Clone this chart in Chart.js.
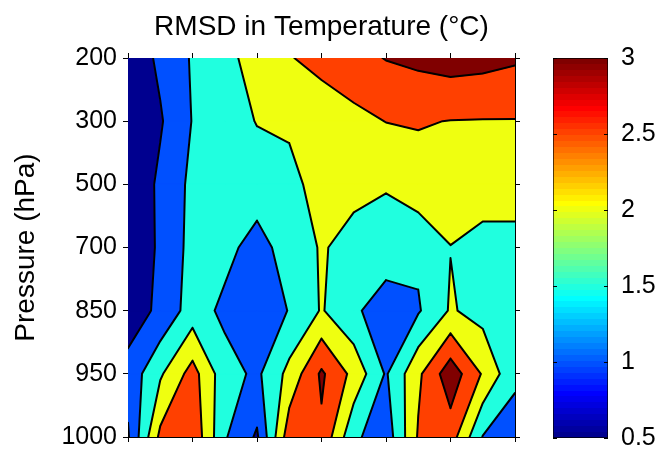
<!DOCTYPE html>
<html lang="en">
<head>
<meta charset="UTF-8">
<title>RMSD in Temperature</title>
<script src="https://cdn.jsdelivr.net/npm/chart.js"></script>
<style>
  body { margin: 0; background: #fff; }
  .wrap { position: relative; width: 657px; height: 458px; }
  #mainChart { position: absolute; left: 0; top: 0; }
  #barChart { position: absolute; left: 520px; top: 0; }
</style>
</head>
<body>
<div class="wrap">
  <canvas id="mainChart" width="657" height="458"></canvas>
  <canvas id="barChart" width="137" height="458"></canvas>
</div>
<script>
// pressure levels (rows, top to bottom) and grid columns along x
const pressureLevels = ['200', '300', '500', '700', '850', '950', '1000'];
const columns = [0, 1, 2, 3, 4, 5, 6, 7, 8, 9, 10, 11, 12];

// RMSD values (deg C), one array per pressure level
const rmsd200  = [0.65, 1.10, 1.55, 1.87, 2.18, 2.47, 2.66, 2.84, 3.02, 3.12, 3.22, 3.17, 3.07];
const rmsd300  = [0.55, 0.95, 1.52, 1.77, 2.02, 2.08, 2.20, 2.36, 2.51, 2.53, 2.49, 2.48, 2.48];
const rmsd500  = [0.57, 1.10, 1.62, 1.70, 1.77, 1.85, 2.20, 2.12, 2.03, 2.32, 2.25, 2.20, 2.20];
const rmsd700  = [0.70, 1.06, 1.67, 1.65, 1.30, 1.73, 2.04, 1.85, 1.82, 1.60, 1.99, 1.86, 1.86];
const rmsd850  = [0.75, 1.10, 1.74, 1.39, 1.20, 1.52, 2.04, 1.60, 1.20, 1.45, 2.05, 1.82, 1.75];
const rmsd950  = [1.17, 1.93, 2.70, 1.70, 1.40, 2.15, 3.08, 2.35, 1.45, 2.40, 3.30, 2.45, 1.60];
const rmsd1000 = [0.95, 2.62, 2.90, 1.55, 0.93, 2.80, 2.91, 1.60, 1.20, 2.55, 2.75, 1.48, 1.27];

const contourLevels = [0.5, 1, 1.5, 2, 2.5, 3];
const colorbarTicks = [0.5, 1, 1.5, 2, 2.5, 3];

Chart.defaults.font.family = "'Liberation Sans', Arial, sans-serif";
Chart.defaults.color = '#000';

// 64-row jet colour map, same construction as MATLAB's jet(64)
const JET_ROWS = 64;
function jetRow(row) {
    const n = 16;
    const u = [];
    for (let i = 1; i <= n; i++) u.push(i / n);
    for (let i = 0; i < n - 1; i++) u.push(1);
    for (let i = n; i >= 1; i--) u.push(i / n);
    const pick = k => (k >= 1 && k <= u.length) ? u[k - 1] : 0;
    const c = v => Math.round(255 * v);
    return `rgb(${c(pick(row - 24))},${c(pick(row - 8))},${c(pick(row + 8))})`;
}

const cMin = colorbarTicks[0];
const cMax = colorbarTicks[colorbarTicks.length - 1];
function levelColor(level) {
    const row = Math.min(JET_ROWS, Math.floor((level - cMin) / (cMax - cMin) * JET_ROWS) + 1);
    return jetRow(row);
}

// part of one grid cell where value >= level (straight edges, like marching squares)
function clipCell(cell, level) {
    const out = [];
    for (let k = 0; k < 4; k++) {
        const a = cell.pts[k], b = cell.pts[(k + 1) % 4];
        const va = cell.vals[k], vb = cell.vals[(k + 1) % 4];
        if (va >= level) out.push({ x: a.x, y: a.y, cross: false });
        if ((va >= level) !== (vb >= level)) {
            const t = (level - va) / (vb - va);
            out.push({ x: a.x + t * (b.x - a.x), y: a.y + t * (b.y - a.y), cross: true });
        }
    }
    return out;
}

const contourPlugin = {
    id: 'contourFill',
    beforeDatasetsDraw(chart) {
        const { ctx, chartArea: area, scales } = chart;
        const xs = scales.x, ys = scales.y;
        const grid = [rmsd200, rmsd300, rmsd500, rmsd700, rmsd850, rmsd950, rmsd1000];

        const cells = [];
        for (let i = 0; i < grid.length - 1; i++) {
            for (let j = 0; j < columns.length - 1; j++) {
                const x0 = xs.getPixelForValue(columns[j]), x1 = xs.getPixelForValue(columns[j + 1]);
                const y0 = ys.getPixelForValue(i), y1 = ys.getPixelForValue(i + 1);
                cells.push({
                    pts: [{ x: x0, y: y0 }, { x: x1, y: y0 }, { x: x1, y: y1 }, { x: x0, y: y1 }],
                    vals: [grid[i][j], grid[i][j + 1], grid[i + 1][j + 1], grid[i + 1][j]]
                });
            }
        }

        ctx.save();
        ctx.beginPath();
        ctx.rect(area.left, area.top, area.right - area.left, area.bottom - area.top);
        ctx.clip();

        // filled bands
        contourLevels.forEach(level => {
            ctx.beginPath();
            cells.forEach(cell => {
                const poly = clipCell(cell, level);
                if (poly.length < 3) return;
                ctx.moveTo(poly[0].x, poly[0].y);
                for (let n = 1; n < poly.length; n++) ctx.lineTo(poly[n].x, poly[n].y);
                ctx.closePath();
            });
            ctx.fillStyle = levelColor(level);
            ctx.strokeStyle = levelColor(level);
            ctx.lineWidth = 1;
            ctx.fill();
            ctx.stroke();
        });

        // contour lines
        ctx.beginPath();
        contourLevels.forEach(level => {
            cells.forEach(cell => {
                const poly = clipCell(cell, level);
                for (let n = 0; n < poly.length; n++) {
                    const p = poly[n], q = poly[(n + 1) % poly.length];
                    if (p.cross && q.cross) {
                        ctx.moveTo(p.x, p.y);
                        ctx.lineTo(q.x, q.y);
                    }
                }
            });
        });
        ctx.strokeStyle = '#000';
        ctx.lineWidth = 2;
        ctx.lineCap = 'round';
        ctx.stroke();
        ctx.restore();
    }
};

const tickGrid = { drawOnChartArea: false, drawTicks: true, tickLength: 5, color: '#000', tickColor: '#000', lineWidth: 1 };
const axisBorder = { display: true, color: '#000', width: 1 };

new Chart(document.getElementById('mainChart'), {
    type: 'scatter',
    data: { datasets: [] },
    options: {
        responsive: false,
        animation: false,
        layout: { padding: { left: 0, right: 132, top: 0, bottom: 0 } },
        plugins: {
            legend: { display: false },
            tooltip: { enabled: false },
            title: {
                display: true,
                fullSize: false,
                text: 'RMSD in Temperature (°C)',
                color: '#000',
                font: { size: 28, weight: 'normal' },
                padding: { top: 10, bottom: 6.4 }
            }
        },
        scales: {
            x: {
                type: 'linear', position: 'bottom', min: 0, max: 12, z: 1,
                afterFit: s => { s.height = 18; },
                ticks: { stepSize: 2, callback: () => '' },
                grid: tickGrid, border: axisBorder
            },
            xTop: {
                type: 'linear', position: 'top', min: 0, max: 12, z: 1,
                afterFit: s => { s.height = 8; },
                ticks: { stepSize: 2, callback: () => '' },
                grid: tickGrid, border: axisBorder
            },
            y: {
                type: 'linear', position: 'left', min: 0, max: 6, reverse: true, z: 1,
                afterFit: s => { s.width = 128; },
                ticks: {
                    stepSize: 1, padding: 6, color: '#000',
                    font: { size: 25 },
                    callback: v => pressureLevels[Math.round(v)]
                },
                title: {
                    display: true, text: 'Pressure (hPa)', color: '#000',
                    font: { size: 28 }, padding: { top: 9, bottom: 0 }
                },
                grid: tickGrid, border: axisBorder
            },
            yRight: {
                type: 'linear', position: 'right', min: 0, max: 6, reverse: true, z: 1,
                afterFit: s => { s.width = 10; },
                ticks: { stepSize: 1, callback: () => '' },
                grid: tickGrid, border: axisBorder
            }
        }
    },
    plugins: [contourPlugin]
});

// colour bar
const barTickPlugin = {
    id: 'barTicks',
    afterDatasetsDraw(chart) {
        const { ctx, chartArea: area, scales: { y } } = chart;
        ctx.save();
        ctx.strokeStyle = '#000';
        ctx.lineWidth = 1;
        ctx.beginPath();
        colorbarTicks.forEach(v => {
            const py = Math.round(y.getPixelForValue(v)) + 0.5;
            ctx.moveTo(area.left, py); ctx.lineTo(area.left + 4, py);
            ctx.moveTo(area.right - 4, py); ctx.lineTo(area.right, py);
        });
        ctx.stroke();
        ctx.restore();
    }
};

function jetGradient(context) {
    const chart = context.chart;
    if (!chart.chartArea) return 'transparent';
    const y = chart.scales.y;
    const g = chart.ctx.createLinearGradient(0, y.getPixelForValue(cMin), 0, y.getPixelForValue(cMax));
    for (let i = 0; i < JET_ROWS; i++) {
        const col = jetRow(i + 1);
        g.addColorStop(i / JET_ROWS, col);
        g.addColorStop((i + 1) / JET_ROWS, col);
    }
    return g;
}

new Chart(document.getElementById('barChart'), {
    type: 'bar',
    data: {
        labels: [''],
        datasets: [{
            data: [[cMin, cMax]],
            backgroundColor: jetGradient,
            borderColor: '#000',
            borderWidth: 1,
            borderSkipped: false,
            barPercentage: 1,
            categoryPercentage: 1
        }]
    },
    options: {
        responsive: false,
        animation: false,
        layout: { padding: { left: 33, right: 0, top: 58, bottom: 18 } },
        plugins: { legend: { display: false }, tooltip: { enabled: false } },
        scales: {
            x: { display: false },
            y: {
                position: 'right', min: cMin, max: cMax,
                afterFit: s => { s.width = 49; },
                ticks: {
                    stepSize: 0.5, padding: 5, color: '#000', font: { size: 25 },
                    callback: v => String(v)
                },
                grid: { display: false },
                border: { display: false }
            }
        }
    },
    plugins: [barTickPlugin]
});
</script>
</body>
</html>
